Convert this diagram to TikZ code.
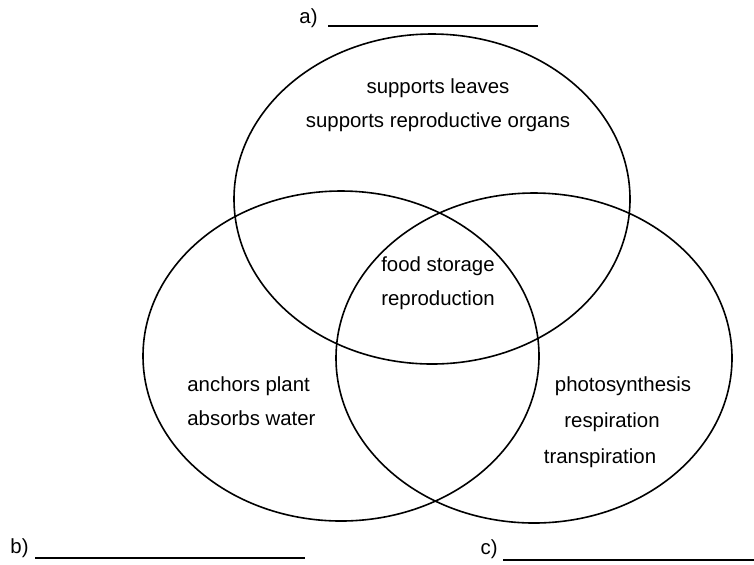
\documentclass[tikz,border=0pt]{standalone}
\usepackage{fontspec}
\setmainfont{Liberation Sans}
\usepackage{tikz}
\usetikzlibrary{shapes.geometric}

\begin{document}
\begin{tikzpicture}[
  x=0.5pt, y=-0.5pt,
  font=\fontsize{10.2}{17}\selectfont,
  set/.style={draw, ellipse, line width=0.8pt, minimum width=198pt, minimum height=165pt, inner sep=0pt},
  txt/.style={align=center, inner sep=0pt},
  blank/.style={line width=0.7pt},
]
\useasboundingbox (0,0) rectangle (754,564);

% the three sets
\node[set] (top) at (432,199) {};
\node[set] (left) at (341,356) {};
\node[set] (right) at (534,358) {};

% texts in the regions
\node[txt] (stem) at (438,105) {supports leaves\\supports reproductive organs};
\node[txt] (all) at (438,283) {food storage\\reproduction};
\node[txt, align=left, anchor=west] (root) at (187,401) {anchors plant\\absorbs water};
\node[txt] (leaf1) at (623,386) {photosynthesis};
\node[txt] (leaf2) at (612,422) {respiration};
\node[txt] (leaf3) at (600,458) {transpiration};

% answer lines
\node[txt, anchor=east] (alab) at (318,18) {a)};
\coordinate (astart) at (328,26);
\coordinate (aend) at (538,26);
\draw[blank] (astart) -- (aend);

\node[txt, anchor=east] (blab) at (29,548) {b)};
\coordinate (bstart) at (35,558);
\coordinate (bend) at (305,558);
\draw[blank] (bstart) -- (bend);

\node[txt, anchor=east] (clab) at (498,549) {c)};
\coordinate (cstart) at (503,560);
\coordinate (cend) at (754,560);
\draw[blank] (cstart) -- (cend);
\end{tikzpicture}
\end{document}
